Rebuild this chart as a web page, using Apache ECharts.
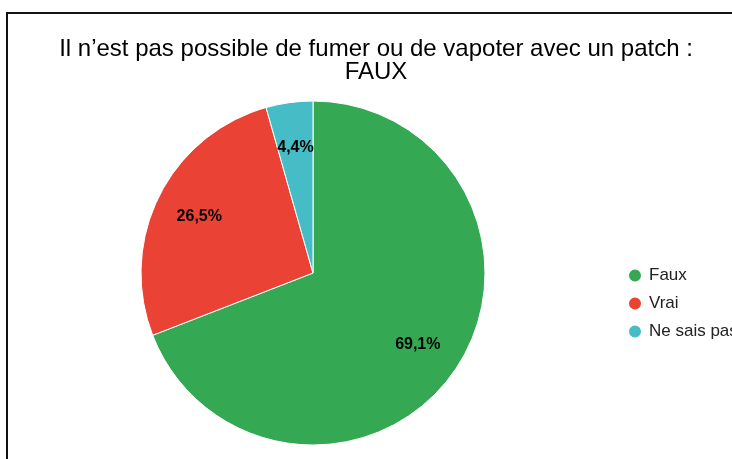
<!DOCTYPE html>
<html>
<head>
<meta charset="utf-8">
<script src="https://cdn.jsdelivr.net/npm/echarts@6/dist/echarts.min.js"></script>
<style>
  html, body { margin: 0; padding: 0; background: #fff; }
  #chart { width: 732px; height: 459px; }
</style>
</head>
<body>
<div id="chart"></div>
<script>
const categories = ['Faux', 'Vrai', 'Ne sais pas']
const values = [69.1, 26.5, 4.4]
const colors = ['#34a853', '#ea4335', '#46bdc6']

const chart = echarts.init(document.getElementById('chart'))

const pieData = categories.map((name, i) => ({ name, value: values[i] }))
const fmt = p => p.value.toFixed(1).replace('.', ',') + '%'

chart.setOption({
  color: colors,
  animation: false,
  title: {
    text: 'Il n’est pas possible de fumer ou de vapoter avec un patch :\nFAUX',
    left: 371,
    top: 33,
    textAlign: 'center',
    textStyle: {
      fontFamily: 'Liberation Sans, Arial, sans-serif',
      fontSize: 24,
      fontWeight: 'normal',
      color: '#000',
      lineHeight: 23
    }
  },
  legend: {
    orient: 'vertical',
    left: 622,
    top: 262,
    icon: 'circle',
    itemWidth: 14,
    itemHeight: 14,
    itemGap: 11,
    data: categories,
    textStyle: {
      fontFamily: 'Liberation Sans, Arial, sans-serif',
      fontSize: 17,
      color: '#222',
      padding: [0, 0, 0, 2]
    }
  },
  graphic: [{
    type: 'rect',
    shape: { x: 7, y: 13, width: 800, height: 500 },
    style: { fill: 'none', stroke: '#111', lineWidth: 2 },
    silent: true
  }],
  series: [{
    name: 'main',
    type: 'pie',
    center: [313, 273],
    radius: [0, 172],
    startAngle: 90,
    clockwise: true,
    data: pieData,
    itemStyle: { borderColor: '#fff', borderWidth: 1 },
    label: { show: false },
    labelLine: { show: false },
    emphasis: { disabled: true }
  }, {
    name: 'labels',
    type: 'pie',
    center: [313, 273],
    radius: [94, 154],
    startAngle: 90,
    clockwise: true,
    silent: true,
    data: pieData,
    itemStyle: { color: 'rgba(0,0,0,0)' },
    label: {
      show: true,
      position: 'inside',
      formatter: fmt,
      fontFamily: 'Liberation Sans, Arial, sans-serif',
      fontSize: 16,
      fontWeight: 'bold',
      color: '#000'
    },
    labelLine: { show: false },
    emphasis: { disabled: true }
  }]
})
</script>
</body>
</html>
